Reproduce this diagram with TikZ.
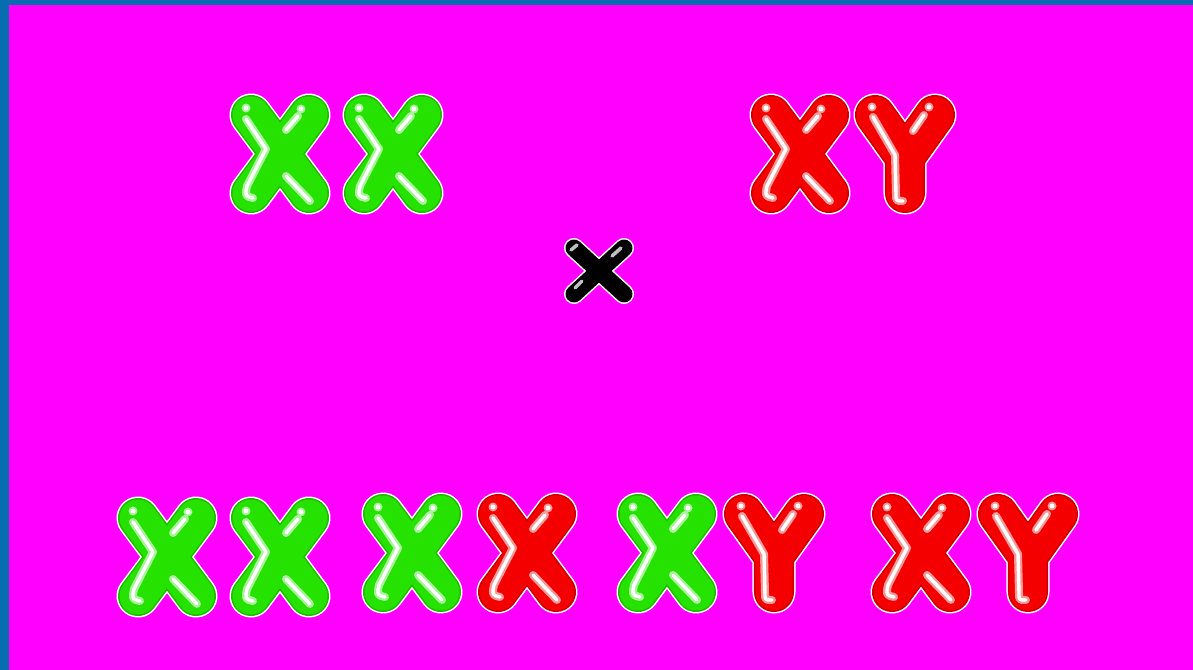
\documentclass[tikz,border=0pt]{standalone}
\usepackage{xcolor}
\usepackage{tikz}
\usetikzlibrary{calc}
\definecolor{FrameBlue}{RGB}{8,108,176}
\definecolor{BgMagenta}{RGB}{255,0,255}
\definecolor{ChromGreen}{RGB}{38,226,0}
\definecolor{ChromRed}{RGB}{245,0,0}
\definecolor{ChromBlack}{RGB}{0,0,0}
\tikzset{
  chrout/.style={draw=white, line width=0.43cm, line cap=round, line join=round},
  chrrim/.style={draw=#1!82!black, line width=0.40cm, line cap=round, line join=round},
  chrbody/.style={draw=#1, line width=0.37cm, line cap=round, line join=round},
  glow/.style={draw=#1!40!white, line width=0.08cm, line cap=round, line join=round},
  shine/.style={draw=white, line width=0.034cm, line cap=round, line join=round},
  crossout/.style={draw=white, line width=0.20cm, line cap=round},
  crossbody/.style={draw=ChromBlack, line width=0.17cm, line cap=round},
  crossshine/.style={draw=white!75!black, line width=0.035cm, line cap=round},
}
\newcommand{\xarms}{(-29,-39) -- (29,39) (29,-39) -- (-29,39)}
\newcommand{\yarms}{(-30,-39) -- (0,3) -- (30,-39) (0,3) -- (0,39)}
% one X chromosome: centre x, centre y, colour
\newcommand{\chromX}[3]{%
  \begin{scope}[shift={(#1,#2)}]
    \draw[chrout] \xarms;
    \draw[chrrim=#3] \xarms;
    \draw[chrbody=#3] \xarms;
    \draw[glow=#3] (-34,-35) -- (-14,-5) -- (-33,32) .. controls (-35,42) .. (-27,44)
      (18,-38) -- (6,-24) (6,22) -- (30,47);
    \draw[shine] (-34,-35) -- (-14,-5) -- (-33,32) .. controls (-35,42) .. (-27,44)
      (18,-38) -- (6,-24) (6,22) -- (30,47);
    \fill[#3!40!white] (-34,-46) circle[radius=4.5] (21,-45) circle[radius=4.5];
    \fill[white] (-34,-46) circle[radius=2.5] (21,-45) circle[radius=2.5];
  \end{scope}}
% one Y chromosome
\newcommand{\chromY}[3]{%
  \begin{scope}[shift={(#1,#2)}]
    \draw[chrout] \yarms;
    \draw[chrrim=#3] \yarms;
    \draw[chrbody=#3] \yarms;
    \draw[glow=#3] (-32,-37) -- (-10,1) -- (-9,40) .. controls (-9,47) .. (-2,47)
      (19,-39) -- (8,-23);
    \draw[shine] (-32,-37) -- (-10,1) -- (-9,40) .. controls (-9,47) .. (-2,47)
      (19,-39) -- (8,-23);
    \fill[#3!40!white] (-33,-47) circle[radius=4.5] (24,-47) circle[radius=4.5];
    \fill[white] (-33,-47) circle[radius=2.5] (24,-47) circle[radius=2.5];
  \end{scope}}

\begin{document}
\begin{tikzpicture}[x=0.01cm, y=-0.01cm]
  % frame and background
  \fill[FrameBlue] (0,0) rectangle (1193,670);
  \fill[BgMagenta] (9,5) rectangle (1193,670);

  % parents
  \chromX{280}{154}{ChromGreen}
  \chromX{393}{154}{ChromGreen}
  \chromX{800}{154}{ChromRed}
  \chromY{905}{154}{ChromRed}

  % cross sign
  \begin{scope}[shift={(599,271)}]
    \draw[crossout] (-25,-23) -- (25,23) (25,-23) -- (-25,23);
    \draw[crossbody] (-25,-23) -- (25,23) (25,-23) -- (-25,23);
    \draw[crossshine] (-28,-21) -- (-22,-26) (-24,17) -- (-17,10) (13,-15) -- (22,-23);
  \end{scope}

  % offspring
  \foreach \cx in {167,280} \chromX{\cx}{557}{ChromGreen};
  \chromX{412}{553}{ChromGreen}
  \chromX{527}{553}{ChromRed}
  \chromX{667}{553}{ChromGreen}
  \chromY{774}{553}{ChromRed}
  \chromX{921}{553}{ChromRed}
  \chromY{1028}{553}{ChromRed}
\end{tikzpicture}
\end{document}
